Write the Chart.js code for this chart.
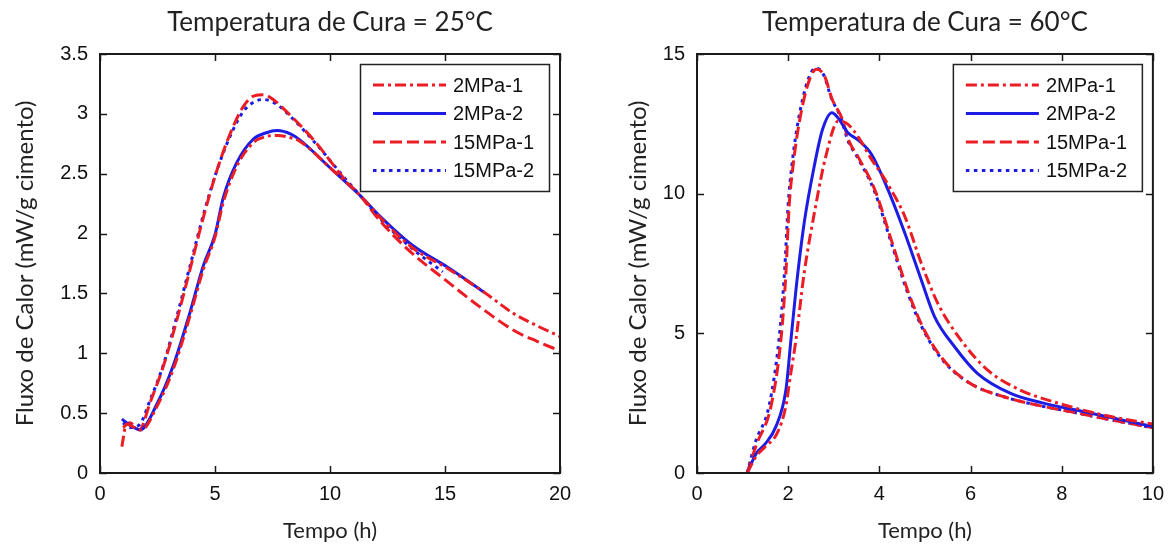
<!DOCTYPE html>
<html>
<head>
<meta charset="utf-8">
<script src="https://cdn.jsdelivr.net/npm/chart.js@4.4.1/dist/chart.umd.min.js"></script>
<style>
  html, body { margin: 0; padding: 0; background: #fff; }
  #wrap { position: relative; width: 1173px; height: 547px; overflow: hidden; background: #fff; }
  #wrap canvas { position: absolute; left: 0; top: 0; }
</style>
</head>
<body>
<div id="wrap">
  <canvas id="chart25" width="1173" height="547"></canvas>
  <canvas id="chart60" width="1173" height="547"></canvas>
</div>
<script>
// Heat flow curves (mW/g cement) versus time (h) for two curing temperatures.
const seriesNames = ['2MPa-1', '2MPa-2', '15MPa-1', '15MPa-2'];

// ---- Curing at 25 °C ----
const t25_2MPa1  = [0.95, 1.15, 1.5, 1.8, 2.46, 3.19, 3.91, 4.49, 5.0, 5.36, 5.94, 6.67, 7.2, 7.7, 8.3, 8.7, 10.0, 11.3, 12.2, 13.6, 15.1, 16.7, 18.0, 19.0, 20.0];
const q25_2MPa1  = [0.22, 0.41, 0.38, 0.36, 0.55, 0.87, 1.31, 1.70, 1.97, 2.26, 2.56, 2.76, 2.81, 2.82, 2.80, 2.77, 2.55, 2.32, 2.13, 1.88, 1.71, 1.51, 1.33, 1.23, 1.14];
const t25_2MPa2  = [0.95, 1.3, 1.75, 2.46, 3.19, 3.91, 4.49, 5.0, 5.36, 5.94, 6.67, 7.2, 7.7, 8.3, 8.7, 10.0, 11.3, 12.2, 13.6, 15.1, 16.7];
const q25_2MPa2  = [0.45, 0.40, 0.36, 0.57, 0.90, 1.34, 1.73, 1.99, 2.30, 2.59, 2.79, 2.84, 2.86, 2.83, 2.78, 2.55, 2.32, 2.14, 1.90, 1.72, 1.51];
const t25_15MPa1 = [1.0, 1.3, 1.7, 2.2, 2.75, 3.33, 3.9, 4.5, 5.07, 5.65, 6.23, 6.7, 7.1, 7.6, 8.0, 9.3, 10.7, 11.3, 12.2, 13.6, 14.9, 16.5, 18.0, 19.0, 20.0];
const q25_15MPa1 = [0.38, 0.42, 0.36, 0.60, 0.89, 1.27, 1.69, 2.14, 2.52, 2.83, 3.06, 3.15, 3.16, 3.11, 3.04, 2.78, 2.44, 2.32, 2.10, 1.83, 1.63, 1.39, 1.19, 1.10, 1.02];
const t25_15MPa2 = [1.0, 1.3, 1.7, 2.2, 2.75, 3.33, 3.9, 4.5, 5.07, 5.65, 6.23, 6.7, 7.1, 7.6, 8.0, 9.3, 10.7, 11.3, 12.2, 13.6, 14.9];
const q25_15MPa2 = [0.42, 0.38, 0.40, 0.62, 0.90, 1.30, 1.72, 2.16, 2.52, 2.81, 3.02, 3.10, 3.12, 3.09, 3.03, 2.77, 2.45, 2.32, 2.12, 1.87, 1.68];
const xTicks25 = [0, 5, 10, 15, 20];
const yTicks25 = [0, 0.5, 1, 1.5, 2, 2.5, 3, 3.5];

// ---- Curing at 60 °C ----
const t60_2MPa1  = [1.1, 1.3, 1.5, 1.75, 1.95, 2.05, 2.17, 2.35, 2.6, 2.82, 3.1, 3.3, 3.55, 3.8, 4.05, 4.2, 4.56, 4.92, 5.28, 5.79, 6.37, 7.09, 7.82, 8.9, 10.0];
const q60_2MPa1  = [0.0, 0.6, 0.95, 1.4, 2.4, 3.5, 4.76, 7.15, 9.53, 11.3, 12.6, 12.5, 12.0, 11.3, 10.7, 10.3, 9.18, 7.51, 6.08, 4.76, 3.69, 2.97, 2.55, 2.08, 1.75];
const t60_2MPa2  = [1.1, 1.3, 1.5, 1.73, 1.95, 2.06, 2.17, 2.35, 2.57, 2.75, 2.96, 3.1, 3.3, 3.55, 3.83, 4.2, 4.56, 4.92, 5.21, 5.65, 6.15, 6.88, 7.6, 8.47, 10.0];
const q60_2MPa2  = [0.0, 0.7, 1.05, 1.66, 2.97, 4.76, 6.55, 8.94, 10.97, 12.28, 12.9, 12.7, 12.2, 11.9, 11.4, 10.1, 8.58, 6.91, 5.6, 4.52, 3.57, 2.85, 2.5, 2.2, 1.66];
const t60_15MPa1 = [1.1, 1.3, 1.62, 1.84, 1.95, 2.02, 2.1, 2.24, 2.45, 2.62, 2.8, 2.96, 3.18, 3.33, 3.54, 3.91, 4.27, 4.63, 4.99, 5.43, 6.0, 6.73, 7.46, 8.18, 8.9, 10.0];
const q60_15MPa1 = [0.0, 1.0, 2.37, 4.76, 7.15, 9.53, 10.9, 12.52, 14.0, 14.45, 14.2, 13.4, 12.7, 11.9, 11.3, 10.1, 8.3, 6.5, 5.1, 4.0, 3.2, 2.73, 2.43, 2.2, 1.96, 1.62];
const t60_15MPa2 = [1.1, 1.28, 1.58, 1.8, 1.92, 2.0, 2.08, 2.22, 2.43, 2.6, 2.78, 2.94, 3.16, 3.31, 3.52, 3.89, 4.25, 4.61, 4.97, 5.41, 6.0, 6.73, 7.46, 8.18, 8.9, 10.0];
const q60_15MPa2 = [0.0, 1.1, 2.4, 4.8, 7.2, 9.6, 11.0, 12.6, 14.05, 14.5, 14.25, 13.45, 12.7, 11.9, 11.3, 10.1, 8.3, 6.5, 5.1, 4.0, 3.2, 2.73, 2.43, 2.2, 1.96, 1.62];
const xTicks60 = [0, 2, 4, 6, 8, 10];
const yTicks60 = [0, 5, 10, 15];

// Line styles for each series
const RED = '#ec1c24';
const BLUE = '#1c1ce4';
const seriesColors = [RED, BLUE, RED, BLUE];
const seriesDashes = [[11, 4, 3, 4], [], [12, 5], [3.5, 4.5]];

const TEXT_FONT = 'Lato';
const TICK_FONT = 'Liberation Sans';

function buildDatasets(times, fluxes) {
  return seriesNames.map((name, i) => ({
    label: name,
    data: times[i].map((t, j) => ({ x: t, y: fluxes[i][j] })),
    borderColor: seriesColors[i],
    backgroundColor: seriesColors[i],
    borderDash: seriesDashes[i],
    borderWidth: 3,
    pointRadius: 0,
    fill: false,
    cubicInterpolationMode: 'monotone'
  }));
}

// Boxed axes with inward tick marks on all four sides, plus a framed legend.
const boxedAxes = {
  id: 'boxedAxes',
  afterDatasetsDraw(chart) {
    const { ctx, chartArea: a } = chart;
    const xs = chart.scales.x, ys = chart.scales.y;
    const tl = 7;
    ctx.save();
    ctx.setLineDash([]);
    ctx.strokeStyle = '#1a1a1a';
    ctx.lineWidth = 1.5;
    ctx.beginPath();
    xs.ticks.forEach(t => {
      const px = Math.round(xs.getPixelForValue(t.value)) + 0.5;
      ctx.moveTo(px, a.bottom); ctx.lineTo(px, a.bottom - tl);
      ctx.moveTo(px, a.top); ctx.lineTo(px, a.top + tl);
    });
    ys.ticks.forEach(t => {
      const py = Math.round(ys.getPixelForValue(t.value)) + 0.5;
      ctx.moveTo(a.left, py); ctx.lineTo(a.left + tl, py);
      ctx.moveTo(a.right, py); ctx.lineTo(a.right - tl, py);
    });
    ctx.stroke();
    ctx.lineWidth = 2;
    ctx.strokeRect(a.left, a.top, a.right - a.left, a.bottom - a.top);

    // legend box
    const w = 189, h = 127;
    const bx = a.right - 11 - w, by = a.top + 10;
    ctx.fillStyle = '#fff';
    ctx.fillRect(bx, by, w, h);
    ctx.lineWidth = 1.5;
    ctx.strokeStyle = '#222';
    ctx.strokeRect(bx + 0.5, by + 0.5, w, h);
    ctx.font = '20px "' + TICK_FONT + '"';
    ctx.textBaseline = 'middle';
    ctx.textAlign = 'left';
    chart.data.datasets.forEach((ds, i) => {
      const y = by + 21 + i * 28.5;
      ctx.strokeStyle = ds.borderColor;
      ctx.lineWidth = ds.borderWidth;
      ctx.setLineDash(ds.borderDash || []);
      ctx.beginPath();
      ctx.moveTo(bx + 13, y);
      ctx.lineTo(bx + 86, y);
      ctx.stroke();
      ctx.setLineDash([]);
      ctx.fillStyle = '#111';
      ctx.fillText(ds.label, bx + 93, y + 1);
    });
    ctx.restore();
  }
};

function makeChart(id, cfg) {
  return new Chart(document.getElementById(id), {
    type: 'line',
    data: { datasets: cfg.datasets },
    plugins: [boxedAxes],
    options: {
      responsive: false,
      animation: false,
      devicePixelRatio: 1,
      layout: { padding: cfg.padding },
      plugins: {
        legend: { display: false },
        tooltip: { enabled: false },
        title: {
          display: true,
          text: cfg.title,
          fullSize: false,
          color: '#222',
          font: { family: TEXT_FONT, size: 26, weight: 'normal', lineHeight: 1.2 },
          padding: { top: 7, bottom: 15.8 }
        }
      },
      scales: {
        x: {
          type: 'linear',
          min: cfg.xTicks[0],
          max: cfg.xTicks[cfg.xTicks.length - 1],
          afterBuildTicks: s => { s.ticks = cfg.xTicks.map(v => ({ value: v })); },
          afterFit: s => { s.height = 74; },
          grid: { display: false, drawTicks: false },
          border: { display: false },
          ticks: { color: '#111', padding: 9, autoSkip: false, maxRotation: 0,
                   font: { family: TICK_FONT, size: 20 },
                   callback: v => String(v) },
          title: { display: true, text: 'Tempo (h)', color: '#222',
                   font: { family: TEXT_FONT, size: 22, lineHeight: 1.2 },
                   padding: { top: 0, bottom: 3 } }
        },
        y: {
          type: 'linear',
          min: cfg.yTicks[0],
          max: cfg.yTicks[cfg.yTicks.length - 1],
          afterBuildTicks: s => { s.ticks = cfg.yTicks.map(v => ({ value: v })); },
          afterFit: s => { s.width = cfg.yWidth; },
          grid: { display: false, drawTicks: false },
          border: { display: false },
          ticks: { color: '#111', padding: 12,
                   font: { family: TICK_FONT, size: 20 },
                   callback: v => String(v) },
          title: { display: true, text: 'Fluxo de Calor (mW/g cimento)', color: '#222',
                   font: { family: TEXT_FONT, size: 24, lineHeight: 1.2 },
                   padding: { top: cfg.yTitlePad, bottom: 0 } }
        }
      }
    }
  });
}

makeChart('chart25', {
  title: 'Temperatura de Cura = 25°C',
  datasets: buildDatasets([t25_2MPa1, t25_2MPa2, t25_15MPa1, t25_15MPa2],
                          [q25_2MPa1, q25_2MPa2, q25_15MPa1, q25_15MPa2]),
  xTicks: xTicks25, yTicks: yTicks25,
  padding: { left: 0, right: 613, top: 0, bottom: 0 },
  yWidth: 100, yTitlePad: 11
});

makeChart('chart60', {
  title: 'Temperatura de Cura = 60°C',
  datasets: buildDatasets([t60_2MPa1, t60_2MPa2, t60_15MPa1, t60_15MPa2],
                          [q60_2MPa1, q60_2MPa2, q60_15MPa1, q60_15MPa2]),
  xTicks: xTicks60, yTicks: yTicks60,
  padding: { left: 600, right: 16, top: 0, bottom: 0 },
  yWidth: 97, yTitlePad: 24
});
</script>
</body>
</html>
